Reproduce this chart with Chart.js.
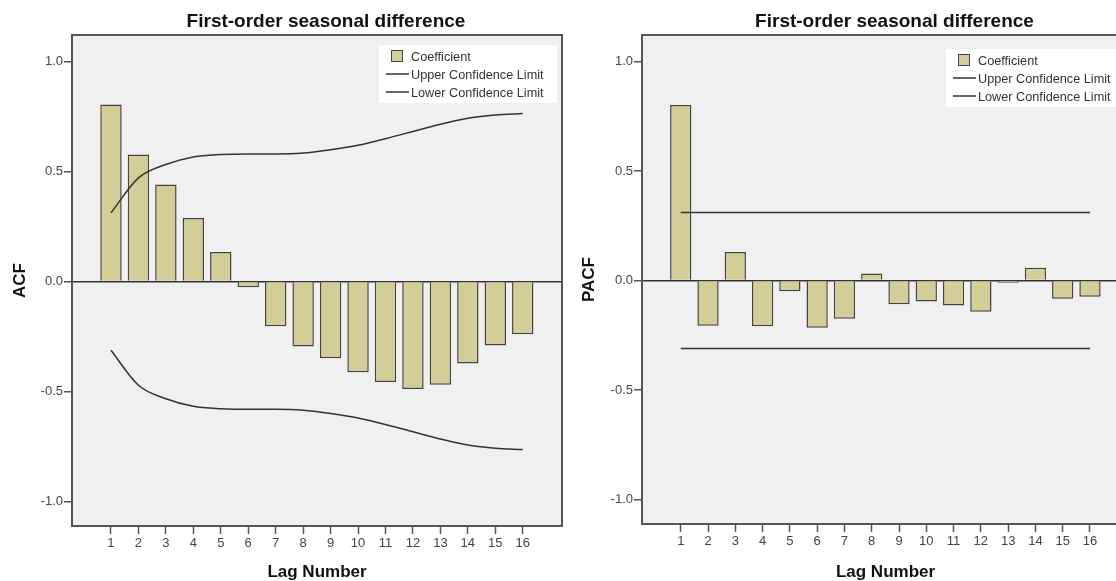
<!DOCTYPE html>
<html>
<head>
<meta charset="utf-8">
<script src="https://cdn.jsdelivr.net/npm/chart.js@4.4.1/dist/chart.umd.min.js"></script>
<style>
  html, body { margin: 0; padding: 0; background: #fff; overflow: hidden; }
  body { width: 1116px; height: 581px; position: relative; }
  canvas { position: absolute; top: 0; }
  #acfChart { left: 0; }
  #pacfChart { left: 566px; }
</style>
</head>
<body>
<canvas id="acfChart" width="566" height="581"></canvas>
<canvas id="pacfChart" width="570" height="581"></canvas>
<script>
// Lag numbers shared by both panels
const lags = [1, 2, 3, 4, 5, 6, 7, 8, 9, 10, 11, 12, 13, 14, 15, 16];
const yTicks = [-1.0, -0.5, 0.0, 0.5, 1.0];

// ACF panel
const acfValues = [0.804, 0.577, 0.441, 0.289, 0.135, -0.026, -0.203, -0.295,
  -0.348, -0.412, -0.456, -0.488, -0.468, -0.372, -0.290, -0.239];
const acfUpper = [0.312, 0.471, 0.532, 0.566, 0.577, 0.580, 0.580, 0.584,
  0.599, 0.619, 0.649, 0.682, 0.715, 0.742, 0.757, 0.763];
const acfLower = [-0.312, -0.471, -0.532, -0.566, -0.577, -0.580, -0.580, -0.584,
  -0.599, -0.619, -0.649, -0.682, -0.715, -0.742, -0.757, -0.763];

// PACF panel
const pacfValues = [0.801, -0.206, 0.130, -0.208, -0.049, -0.215, -0.174, 0.032,
  -0.108, -0.095, -0.114, -0.142, -0.010, 0.059, -0.083, -0.074];
const pacfUpper = [0.31, 0.31, 0.31, 0.31, 0.31, 0.31, 0.31, 0.31,
  0.31, 0.31, 0.31, 0.31, 0.31, 0.31, 0.31, 0.31];
const pacfLower = [-0.31, -0.31, -0.31, -0.31, -0.31, -0.31, -0.31, -0.31,
  -0.31, -0.31, -0.31, -0.31, -0.31, -0.31, -0.31, -0.31];

const FONT = '"Liberation Sans", Arial, sans-serif';
const barColor = "#d3ce97";
const lineColor = "#333333";
const legendLabels = ["Coefficient", "Upper Confidence Limit", "Lower Confidence Limit"];

// SPSS-style frame: grey plot background, border, title and inner legend
const spssFrame = {
  id: "spssFrame",
  beforeDraw(chart) {
    const { ctx, chartArea: a } = chart;
    ctx.save();
    ctx.fillStyle = "#f0f0f0";
    ctx.fillRect(a.left, a.top, a.right - a.left, a.bottom - a.top);
    ctx.restore();
  },
  afterDraw(chart, args, opts) {
    const { ctx, chartArea: a } = chart;
    ctx.save();
    ctx.strokeStyle = "#555";
    ctx.lineWidth = 2;
    ctx.strokeRect(a.left, a.top, a.right - a.left, a.bottom - a.top);

    ctx.fillStyle = "#111";
    ctx.textAlign = "center";
    ctx.textBaseline = "middle";
    ctx.font = "bold 19px " + FONT;
    ctx.fillText(opts.title, (a.left + a.right) / 2 + 9, 22);

    // legend box
    const bx = a.right - 183;
    const by = a.top + opts.legendTop;
    ctx.fillStyle = "#fff";
    ctx.fillRect(bx, by, 178, 58);
    ctx.font = "12.7px " + FONT;
    ctx.textAlign = "left";
    legendLabels.forEach((label, i) => {
      const ry = by + 11 + i * 18;
      if (i === 0) {
        ctx.fillStyle = barColor;
        ctx.fillRect(bx + 12, ry - 6, 12, 12);
        ctx.strokeStyle = "#444";
        ctx.lineWidth = 1;
        ctx.strokeRect(bx + 12.5, ry - 5.5, 11, 11);
      } else {
        ctx.strokeStyle = lineColor;
        ctx.lineWidth = 1.5;
        ctx.beginPath();
        ctx.moveTo(bx + 7, ry);
        ctx.lineTo(bx + 30, ry);
        ctx.stroke();
      }
      ctx.fillStyle = "#333";
      ctx.fillText(label, bx + 32, ry + 1);
    });
    ctx.restore();
  },
};

function toPoints(values) {
  return lags.map((lag, i) => ({ x: lag, y: values[i] }));
}

function createPanel(canvasId, values, upper, lower, yLabel, frame) {
  const ctx = document.getElementById(canvasId).getContext("2d");
  return new Chart(ctx, {
    type: "bar",
    data: {
      datasets: [
        {
          type: "line",
          label: legendLabels[1],
          data: toPoints(upper),
          borderColor: lineColor,
          borderWidth: 1.5,
          pointRadius: 0,
          cubicInterpolationMode: "monotone",
          order: 1,
        },
        {
          type: "line",
          label: legendLabels[2],
          data: toPoints(lower),
          borderColor: lineColor,
          borderWidth: 1.5,
          pointRadius: 0,
          cubicInterpolationMode: "monotone",
          order: 1,
        },
        {
          label: legendLabels[0],
          data: toPoints(values),
          backgroundColor: barColor,
          borderColor: "#444",
          borderWidth: 1.5,
          categoryPercentage: 1,
          barPercentage: 0.78,
          order: 2,
        },
      ],
    },
    options: {
      responsive: false,
      animation: false,
      devicePixelRatio: 1,
      layout: { padding: { top: 35, right: frame.padRight, left: 0, bottom: 0 } },
      plugins: {
        legend: { display: false },
        tooltip: { enabled: false },
        spssFrame: frame,
      },
      scales: {
        x: {
          type: "linear",
          min: -0.42,
          max: 17.43,
          offset: false,
          afterBuildTicks: (scale) => {
            scale.ticks = lags.map((v) => ({ value: v }));
          },
          afterFit: (scale) => {
            scale.height = frame.xAxisHeight;
          },
          ticks: {
            autoSkip: false,
            maxRotation: 0,
            padding: 2,
            color: "#444",
            font: { family: FONT, size: 13 },
            callback: (v) => String(v),
          },
          grid: {
            offset: false,
            drawOnChartArea: false,
            tickLength: 8,
            tickColor: "#555",
            tickWidth: 1.5,
          },
          border: { display: false },
          title: {
            display: true,
            text: "Lag Number",
            color: "#111",
            font: { family: FONT, size: 17, weight: "bold", lineHeight: 1 },
            padding: { top: 0, bottom: frame.xTitlePad },
          },
        },
        y: {
          min: -1.11,
          max: 1.12,
          afterBuildTicks: (scale) => {
            scale.ticks = yTicks.map((v) => ({ value: v }));
          },
          afterFit: (scale) => {
            scale.width = frame.yAxisWidth;
          },
          ticks: {
            padding: 1,
            color: "#444",
            font: { family: FONT, size: 13 },
            callback: (v) => Number(v).toFixed(1),
          },
          grid: {
            color: (c) => (c.tick && c.tick.value === 0 ? "#333" : "rgba(0,0,0,0)"),
            lineWidth: 1.5,
            tickLength: 8,
            tickColor: "#555",
            tickWidth: 1.5,
          },
          border: { display: false },
          title: {
            display: true,
            text: yLabel,
            color: "#111",
            font: { family: FONT, size: 17, weight: "bold", lineHeight: 1 },
            padding: { top: frame.yTitlePad, bottom: 0 },
          },
        },
      },
    },
    plugins: [spssFrame],
  });
}

createPanel("acfChart", acfValues, acfUpper, acfLower, "ACF", {
  title: "First-order seasonal difference",
  legendTop: 10,
  yAxisWidth: 72,
  xAxisHeight: 55,
  padRight: 4,
  yTitlePad: 12,
  xTitlePad: 0,
});

createPanel("pacfChart", pacfValues, pacfUpper, pacfLower, "PACF", {
  title: "First-order seasonal difference",
  legendTop: 14,
  yAxisWidth: 76,
  xAxisHeight: 57,
  padRight: 7,
  yTitlePad: 14.5,
  xTitlePad: 0.5,
});
</script>
</body>
</html>
